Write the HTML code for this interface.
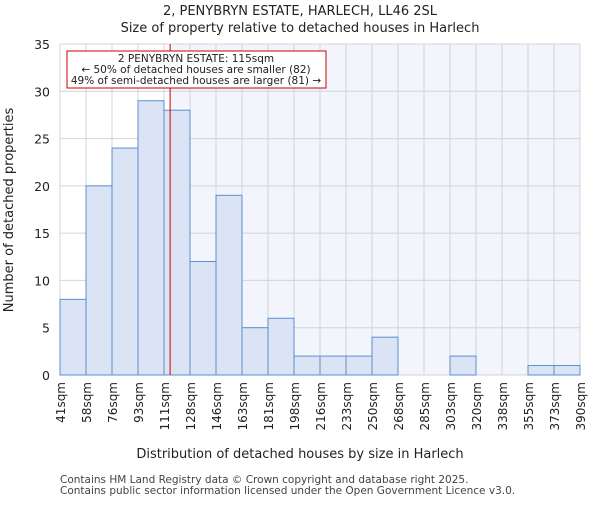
<!DOCTYPE html>
<html><head><meta charset="utf-8"><style>body{margin:0;background:#fff}svg{font-family:"DejaVu Sans","Liberation Sans",sans-serif}</style></head><body>
<svg id="c" width="600" height="500" xmlns="http://www.w3.org/2000/svg"></svg>
<script>
const categories=["41sqm","58sqm","76sqm","93sqm","111sqm","128sqm","146sqm","163sqm","181sqm","198sqm","216sqm","233sqm","250sqm","268sqm","285sqm","303sqm","320sqm","338sqm","355sqm","373sqm","390sqm"];
const counts=[8,20,24,29,28,12,19,5,6,2,2,2,4,0,0,2,0,0,1,1];
const yTicks=[0,5,10,15,20,25,30,35];
const edges=[41,58,76,93,111,128,146,163,181,198,216,233,250,268,285,303,320,338,355,373,390];
const propertySize=115;
const X0=60,X1=580,Y0=375,Y1=44,YMAX=35;
const bw=(X1-X0)/counts.length;
const y=v=>Y0-(Y0-Y1)*v/YMAX;
const xi=i=>X0+i*bw;
function xv(v){for(let i=0;i<edges.length-1;i++){if(v>=edges[i]&&v<=edges[i+1])return xi(i)+(v-edges[i])/(edges[i+1]-edges[i])*bw;}return X0;}
const s=document.getElementById('c');const NS="http://www.w3.org/2000/svg";
function el(t,a,txt){const e=document.createElementNS(NS,t);for(const k in a)e.setAttribute(k,a[k]);if(txt!=null)e.textContent=txt;s.appendChild(e);return e;}
const px=xv(propertySize);
let e=el('rect',{x:px,y:Y1,width:X1-px,height:Y0-Y1,fill:'#f2f5fc'});


for(let i=0;i<=counts.length;i++){e=el('line',{x1:xi(i),x2:xi(i),y1:Y1,y2:Y0,stroke:'#d4d4d4','stroke-width':1});

}
yTicks.forEach(t=>{e=el('line',{x1:X0,x2:X1,y1:y(t),y2:y(t),stroke:'#d4d4d4','stroke-width':1});


e=el('text',{x:X0-10,y:y(t)+5,'text-anchor':'end','font-size':12.5,fill:'#222'},t);

});
counts.forEach((v,i)=>{if(v<=0)return;e=el('rect',{x:xi(i),y:y(v),width:bw,height:Y0-y(v),fill:'#dbe4f4',stroke:'#5b8fd0','stroke-width':1});

});
categories.forEach((c,i)=>{e=el('text',{transform:`translate(${xi(i)+5},382) rotate(-90)`,'text-anchor':'end','font-size':12,fill:'#222'},c);

});
e=el('line',{x1:px,x2:px,y1:Y1,y2:Y0,stroke:'#cc0000','stroke-width':1});


e=el('rect',{x:67,y:51,width:259,height:37,fill:'#fff',stroke:'#cc0000','stroke-width':1});


[["2 PENYBRYN ESTATE: 115sqm",62],["← 50% of detached houses are smaller (82)",73],["49% of semi-detached houses are larger (81) →",84]].forEach(a=>{e=el('text',{x:196,y:a[1],'text-anchor':'middle','font-size':10.5,fill:'#222'},a[0]);

});
e=el('text',{x:300,y:15,'text-anchor':'middle','font-size':13,fill:'#222'},"2, PENYBRYN ESTATE, HARLECH, LL46 2SL");


e=el('text',{x:300,y:32,'text-anchor':'middle','font-size':13,fill:'#222'},"Size of property relative to detached houses in Harlech");


e=el('text',{x:300,y:458,'text-anchor':'middle','font-size':13,fill:'#222'},"Distribution of detached houses by size in Harlech");


e=el('text',{transform:'translate(13,210) rotate(-90)','text-anchor':'middle','font-size':13,fill:'#222'},"Number of detached properties");


e=el('text',{x:60,y:483,'font-size':10.5,fill:'#444'},"Contains HM Land Registry data © Crown copyright and database right 2025.");


e=el('text',{x:60,y:494,'font-size':10.5,fill:'#444'},"Contains public sector information licensed under the Open Government Licence v3.0.");


</script>
</body></html>
